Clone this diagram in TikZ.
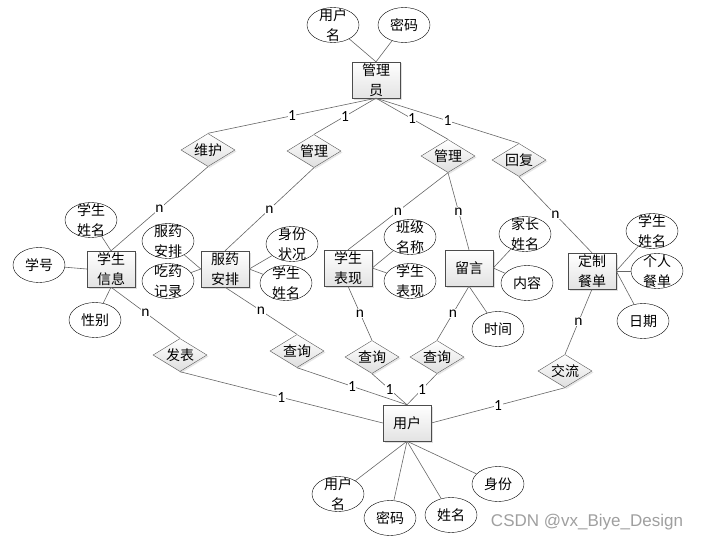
\documentclass[tikz,border=0pt]{standalone}
\usepackage{fontspec}
\setmainfont{Noto Sans CJK SC}
\newfontfamily\numfont{Carlito}
\newfontfamily\wmfont{Liberation Sans}
\usetikzlibrary{shapes.geometric, shadows}
\newcommand\ertext[1]{\smash{\raisebox{-5pt}{\begin{tabular}{@{}c@{}}#1\end{tabular}}}}

\begin{document}
\begin{tikzpicture}[x=1pt, y=-1pt,
  font=\fontsize{14}{20}\selectfont,
  entity/.style={draw=gray!60!black, top color=white, bottom color=gray!22,
    minimum width=48pt, minimum height=36pt, inner sep=0pt,
    drop shadow={opacity=0.25, shadow xshift=1.5pt, shadow yshift=-1.5pt}},
  attr/.style={ellipse, draw=black, fill=white, minimum width=52pt,
    minimum height=35pt, inner sep=0pt},
  rel/.style={diamond, draw=gray!70!black, top color=white, bottom color=gray!25,
    minimum width=54pt, minimum height=33pt, inner sep=0pt, aspect=1.6,
    drop shadow={opacity=0.2, shadow xshift=1.5pt, shadow yshift=-1.5pt}},
  link/.style={draw=black!60, line width=0.6pt},
  lbl/.style={fill=white, inner sep=0.5pt, font=\numfont\fontsize{15.5}{15.5}\selectfont}]
  \useasboundingbox (0,0) rectangle (707,543);

  % entities
  \node[entity] (admin) at (376,80) {\ertext{管理\\员}};
  \node[entity] (stuInfo) at (111,269) {\ertext{学生\\信息}};
  \node[entity] (medPlan) at (225,269) {\ertext{服药\\安排}};
  \node[entity] (stuPerf) at (348,268) {\ertext{学生\\表现}};
  \node[entity] (message) at (469,268) {\ertext{留言}};
  \node[entity] (meal) at (592,271) {\ertext{定制\\餐单}};
  \node[entity] (user) at (407,423) {\ertext{用户}};

  % relations
  \node[rel] (maintain) at (208,150) {\ertext{维护}};
  \node[rel] (manageA) at (314,151) {\ertext{管理}};
  \node[rel] (manageB) at (448,156) {\ertext{管理}};
  \node[rel] (reply) at (519,160) {\ertext{回复}};
  \node[rel] (publish) at (180,355) {\ertext{发表}};
  \node[rel] (queryA) at (297,351) {\ertext{查询}};
  \node[rel] (queryB) at (372,357) {\ertext{查询}};
  \node[rel] (queryC) at (437,357) {\ertext{查询}};
  \node[rel] (talk) at (565,371) {\ertext{交流}};

  % attributes
  \foreach \nm/\x/\y/\txt/\ent in {
    adminName/333/25/用户\\名/admin.north,
    adminPwd/404/25/密码/admin.north,
    stuName/91/220/学生\\姓名/stuInfo.north,
    stuNo/39/265/学号/stuInfo.west,
    stuSex/95/320/性别/stuInfo.south,
    medArr/168/241/服药\\安排/medPlan.west,
    medRec/168/281/吃药\\记录/medPlan.west,
    medState/292/244/身份\\状况/medPlan.east,
    medName/286/283/学生\\姓名/medPlan.east,
    perfClass/410/237/班级\\名称/stuPerf.east,
    perfText/410/281/学生\\表现/stuPerf.east,
    msgParent/525/234/家长\\姓名/message.east,
    msgBody/527/283/内容/message.east,
    msgTime/498/329/时间/message.south,
    mealName/652/231/学生\\姓名/meal.east,
    mealOwn/657/271/个人\\餐单/meal.east,
    mealDate/643/321/日期/meal.east,
    userName/338/494/用户\\名/user.south,
    userPwd/390/518/密码/user.south,
    userReal/451/515/姓名/user.south,
    userRole/498/484/身份/user.south}
  {
    \node[attr] (\nm) at (\x,\y) {\ertext{\txt}};
    \draw[link] (\nm) -- (\ent);
  }

  % admin side
  \draw[link] (admin.south) -- node[lbl]{1} (maintain.north);
  \draw[link] (admin.south) -- node[lbl]{1} (manageA.north);
  \draw[link] (admin.south) -- node[lbl]{1} (manageB.north);
  \draw[link] (admin.south) -- node[lbl]{1} (reply.north);
  \draw[link] (maintain.south) -- node[lbl]{n} (stuInfo.north);
  \draw[link] (manageA.south) -- node[lbl]{n} (medPlan.north);
  \draw[link] (manageB.south) -- node[lbl]{n} (stuPerf.north);
  \draw[link] (manageB.south) -- node[lbl]{n} (message.north);
  \draw[link] (reply.south) -- node[lbl]{n} (meal.north);

  % user side
  \draw[link] (stuInfo.south) -- node[lbl]{n} (publish.north);
  \draw[link] (medPlan.south) -- node[lbl]{n} (queryA.north);
  \draw[link] (stuPerf.south) -- node[lbl]{n} (queryB.north);
  \draw[link] (message.south) -- node[lbl]{n} (queryC.north);
  \draw[link] (meal.south) -- node[lbl]{n} (talk.north);
  \draw[link] (publish.south) -- node[lbl]{1} (user.west);
  \draw[link] (queryA.south) -- node[lbl]{1} (user.north);
  \draw[link] (queryB.south) -- node[lbl]{1} (user.north);
  \draw[link] (queryC.south) -- node[lbl]{1} (user.north);
  \draw[link] (talk.south) -- node[lbl]{1} (user.east);

  \node[font=\wmfont\fontsize{17}{17}\selectfont, text=gray!75] (mark) at (587,522) {CSDN @vx\_Biye\_Design};
\end{tikzpicture}
\end{document}
